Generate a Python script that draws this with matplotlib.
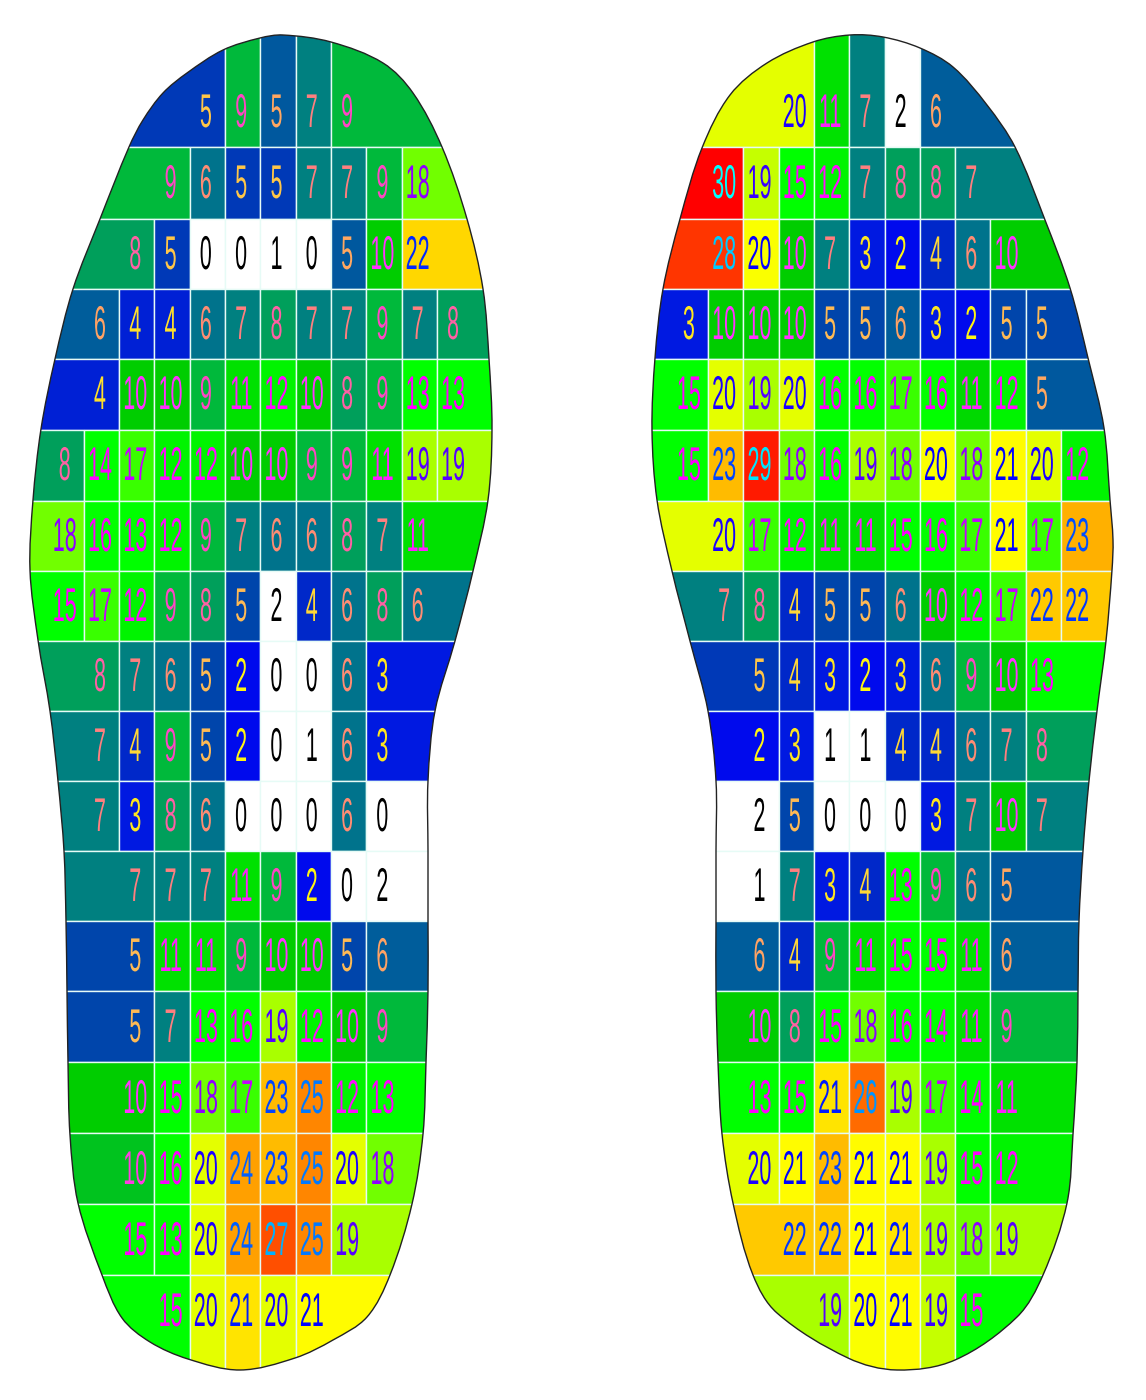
import numpy as np
import matplotlib
matplotlib.use('Agg')
import matplotlib.pyplot as plt
from matplotlib.colors import LinearSegmentedColormap
from matplotlib.patches import PathPatch, Rectangle
from matplotlib.path import Path
from matplotlib.patheffects import AbstractPathEffect
from matplotlib.transforms import Affine2D

# pressure per row (decimals only set the colour, the label is rounded)
left_rows = [
    [4.6, 9, 5.4, 7, 9],
    [9, 6, 4.6, 4.6, 7, 7, 9, 18],
    [8, 4.6, 0, 0, 1, 0, 5.4, 10, 22],
    [5.5, 3.51, 3.51, 6, 7, 8, 7, 7, 9, 7, 8],
    [3.51, 10, 10, 9, 11, 12, 10, 8, 9, 13, 13],
    [8, 14, 17, 12, 12, 10, 10, 9, 9, 11, 19, 19],
    [18, 16, 13, 12, 9, 7, 6, 6, 8, 7, 11],
    [15, 17, 12, 9, 8, 5, 1.6, 4, 6, 8, 6],
    [8, 7, 6, 5, 2.4, 0, 0, 6, 3],
    [7, 4, 9, 5, 2.4, 0, 1, 6, 3],
    [7, 3, 8, 6, 0, 0, 0, 6, 0],
    [7, 7, 7, 11, 9, 2.4, 0, 1.6],
    [5, 11, 11, 9, 10, 10, 5, 5.5],
    [5, 7, 13, 16, 19, 12, 10, 9],
    [10, 15, 18, 17, 23, 25, 12, 13],
    [9.5, 16, 20, 24, 23, 25, 20, 18],
    [15, 13, 20, 24, 27, 25, 19],
    [15, 20, 21.49, 20, 20.6],
]
left_start = [4, 3, 2, 1, 1, 0, 0, 0, 1, 1, 1, 2, 2, 2, 2, 2, 2, 3]

right_rows = [
    [20, 11, 7, 1.6, 5.5],
    [30, 19.49, 15, 12, 7, 8, 8, 7],
    [28, 20.4, 10, 7, 3, 2.4, 4, 6, 10],
    [3, 10, 10, 10, 5, 5, 5.5, 3, 2.4, 5, 5],
    [15, 20, 19, 20, 16, 16, 17, 16, 10.6, 12, 5.4],
    [15, 23, 29, 18, 16, 19, 18, 20.4, 18, 20.6, 20, 12],
    [20, 17, 12, 11, 11, 15, 16, 17, 20.6, 17, 23.4],
    [7, 8, 4, 5, 5, 6, 10, 12, 17, 22.49, 22.49],
    [4.6, 4, 3, 2.4, 3, 6, 9, 10, 13],
    [2.4, 3, 1, 1, 4, 4, 6, 7, 8],
    [1.6, 5, 0, 0, 0, 3, 7, 10, 7],
    [1, 7, 3, 4, 13, 9, 6, 5.4],
    [5.5, 4, 9, 11, 15, 15, 11, 5.5],
    [10, 8, 15, 18, 16, 14, 11, 9],
    [13, 15, 21.49, 26, 19, 17, 14, 11],
    [20, 20.6, 23, 20.6, 20.6, 19, 15, 12],
    [22.49, 22.49, 20.6, 21.49, 19, 18, 19],
    [19, 20.4, 20.6, 19.49, 15],
]
right_start = [3, 1, 1, 0, 0, 0, 1, 1, 2, 2, 2, 2, 2, 2, 2, 2, 3, 4]

# colour scale stops
scale_vals = [2, 3, 4, 5, 6, 7, 8, 9, 10, 11, 12.5, 16, 20.5, 30]
scale_cols = ['#0000f5', '#0019e1', '#0028c8', '#0046aa', '#00738c', '#008080', '#00a05a',
              '#00b93c', '#00cd00', '#00e100', '#00ff00', '#00ff00', '#ffff00', '#ff0000']

# row borders, shared by both feet
row_edges = [0, 147, 219, 289, 359, 430, 501, 571, 641, 711, 781, 851, 921, 991, 1062, 1133, 1204, 1275, 1400]
label_y = [111, 182, 253, 323, 393, 464, 535, 605, 675, 745, 815, 885, 955, 1026, 1097, 1168, 1239, 1310]
cell_w = 35.3

# outlines
left_outline = [(283, 35), (331, 42), (383, 63), (413, 93), (442, 147), (467, 219), (483, 289),
                (489, 359), (492, 429), (488, 500), (473, 571), (455, 641), (435, 711), (428, 781),
                (428, 851), (428, 921), (428, 991), (426, 1062), (423, 1134), (412, 1204), (390, 1275),
                (367, 1317), (333, 1340), (295, 1358), (240, 1370), (188, 1359), (150, 1342), (122, 1318),
                (102, 1275), (78, 1203), (70, 1135), (68, 1062), (67, 991), (66, 921), (64, 851), (58, 781),
                (50, 711), (38, 640), (30, 570), (33, 500), (41, 429), (55, 359), (73, 289), (100, 219),
                (129, 147), (143, 120), (163, 93), (187, 73), (223, 50), (260, 38)]
right_outline = [(850, 35), (883, 37), (920, 48), (953, 67), (987, 105), (1015, 147), (1045, 220),
                 (1070, 288), (1088, 358), (1104, 428), (1110, 500), (1113, 540), (1112, 570), (1106, 641),
                 (1097, 711), (1089, 781), (1083, 851), (1079, 921), (1078, 991), (1077, 1062), (1073, 1134),
                 (1067, 1203), (1043, 1275), (1017, 1317), (955, 1360), (897, 1370), (848, 1358), (777, 1313),
                 (753, 1275), (733, 1203), (722, 1134), (718, 1062), (716, 991), (716, 921), (716, 851),
                 (716, 781), (708, 711), (690, 641), (672, 571), (657, 500), (652, 430), (655, 358), (663, 289),
                 (680, 219), (702, 148), (730, 95), (767, 63), (813, 42)]


class StretchY(AbstractPathEffect):
    # the digits in the picture are about twice as tall as normal
    def __init__(self, sy):
        super().__init__()
        self.sy = sy

    def draw_path(self, renderer, gc, tpath, affine, rgbFace=None):
        renderer.draw_path(gc, tpath, Affine2D().scale(1, self.sy) + affine, rgbFace)


def smooth_path(pts):
    pts = np.array(pts, dtype=float)
    n = len(pts)
    tang = [pts[(i + 1) % n] - pts[i - 1] for i in range(n)]
    tang = [t / np.hypot(*t) for t in tang]
    verts = [pts[0]]
    codes = [Path.MOVETO]
    for i in range(n):
        j = (i + 1) % n
        d = np.hypot(*(pts[j] - pts[i])) / 3
        verts += [pts[i] + tang[i] * d, pts[j] - tang[j] * d, pts[j]]
        codes += [Path.CURVE4] * 3
    return Path(verts, codes)


span = scale_vals[-1] - scale_vals[0]
cmap = LinearSegmentedColormap.from_list(
    'foot', [((v - scale_vals[0]) / span, c) for v, c in zip(scale_vals, scale_cols)], N=512)


def cell_color(v):
    if v < 2:
        return (1, 1, 1)
    return cmap((v - scale_vals[0]) / span)[:3]


fig = plt.figure(figsize=(11.46, 14), dpi=100)
ax = fig.add_axes([0, 0, 1, 1])
ax.set_xlim(0, 1146)
ax.set_ylim(1400, 0)
ax.axis('off')


def draw_foot(rows, start, outline, x0):
    foot = PathPatch(smooth_path(outline), facecolor='none', edgecolor='#222222', lw=1.0, zorder=5)
    ax.add_patch(foot)
    xmin = min(p[0] for p in outline) - 10
    xmax = max(p[0] for p in outline) + 10
    for r, vals in enumerate(rows):
        y0, y1 = row_edges[r], row_edges[r + 1]
        for k, v in enumerate(vals):
            col = start[r] + k
            a = x0 + col * cell_w
            b = a + cell_w
            if k == 0:
                a = xmin
            if k == len(vals) - 1:
                b = xmax
            c = cell_color(v)
            rect = Rectangle((a, y0), b - a, y1 - y0, facecolor=c, edgecolor='#e6fbf6', lw=1.0, zorder=2)
            ax.add_patch(rect)
            rect.set_clip_path(foot)
            tx = x0 + col * cell_w + cell_w / 2 - 1.5
            ax.text(tx, label_y[r] + 16, str(int(round(v))), ha='center', va='baseline',
                    family=['Liberation Sans', 'DejaVu Sans'], fontsize=15.5,
                    color=tuple(1 - q for q in c), zorder=4, path_effects=[StretchY(2.2)])


draw_foot(left_rows, left_start, left_outline, 48.5)
draw_foot(right_rows, right_start, right_outline, 672.7)

fig.savefig('out.png', dpi=100, facecolor='white')
